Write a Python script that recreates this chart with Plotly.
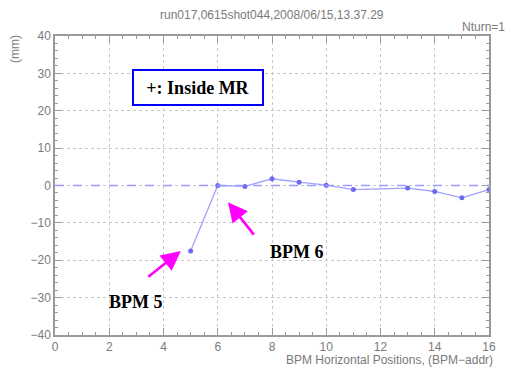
import plotly.graph_objects as go

# BPM readings (horizontal position in mm) for one turn
bpm_addr = [5, 6, 7, 8, 9, 10, 11, 13, 14, 15, 16]
position_mm = [-17.5, 0.0, -0.25, 1.8, 0.9, 0.1, -1.1, -0.7, -1.6, -3.3, -1.1]

x_ticks = [0, 2, 4, 6, 8, 10, 12, 14, 16]
y_ticks = [-40, -30, -20, -10, 0, 10, 20, 30, 40]

title_text = "run017,0615shot044,2008/06/15,13.37.29"
turn_text = "Nturn=1"
x_title = "BPM Horizontal Positions, (BPM\u2212addr)"
y_title = "(mm)"

axis_grey = "#9a9a9a"
text_grey = "#7a7a7a"
sans = "Liberation Sans, Arial, sans-serif"
serif = "Liberation Serif, Times New Roman, serif"

fig = go.Figure()
fig.add_trace(go.Scatter(
    x=bpm_addr, y=position_mm, mode="lines+markers",
    line=dict(color="#a0a0ff", width=1.3),
    marker=dict(color="#6b6bf2", size=5, line=dict(color="#6b6bf2", width=0)),
    showlegend=False, hoverinfo="x+y",
))

# reference line at zero
fig.add_shape(type="line", xref="paper", yref="y", x0=0, x1=1, y0=0, y1=0,
              line=dict(color="#9d9dff", width=1.4, dash="dash"), layer="above")

axis_common = dict(
    showline=True, linecolor=axis_grey, linewidth=1.5, mirror="allticks",
    ticks="inside", tickcolor=axis_grey, ticklen=7, tickwidth=1,
    showgrid=True, gridcolor="#c9c9c9", griddash="dot", gridwidth=1,
    zeroline=False, tickfont=dict(family=sans, size=12, color=text_grey),
)

fig.update_xaxes(range=[0, 16], tickvals=x_ticks, **axis_common,
                 minor=dict(dtick=0.5, ticks="inside", ticklen=3, tickcolor=axis_grey, showgrid=False))
fig.update_yaxes(range=[-40, 40], tickvals=y_ticks, **axis_common,
                 minor=dict(dtick=2, ticks="inside", ticklen=3, tickcolor=axis_grey, showgrid=False))

annotations = [
    dict(text=title_text, xref="paper", yref="paper", x=0.499, y=1.07,
         xanchor="center", yanchor="middle", showarrow=False,
         font=dict(family=sans, size=12, color=text_grey)),
    dict(text=turn_text, xref="paper", yref="paper", x=0.934, y=1.03,
         xanchor="left", yanchor="middle", showarrow=False,
         font=dict(family=sans, size=12, color=text_grey)),
    dict(text=x_title, xref="paper", yref="paper", x=1.0137, y=-0.0836,
         xanchor="right", yanchor="middle", showarrow=False,
         font=dict(family=sans, size=12, color=text_grey)),
    dict(text=y_title, xref="paper", yref="paper", x=-0.091, y=0.955,
         xanchor="center", yanchor="middle", textangle=-90, showarrow=False,
         font=dict(family=sans, size=12, color=text_grey)),
    dict(text="<b>+: Inside MR</b>", xref="x", yref="y", x=5.27, y=26.3,
         showarrow=False, font=dict(family=serif, size=18, color="black"),
         bordercolor="#0000ff", borderwidth=2, borderpad=2, width=124, height=29,
         bgcolor="white"),
    dict(text="<b>BPM 5</b>", xref="x", yref="y", x=2.99, y=-31.3,
         showarrow=False, font=dict(family=serif, size=18, color="black")),
    dict(text="<b>BPM 6</b>", xref="x", yref="y", x=8.91, y=-17.9,
         showarrow=False, font=dict(family=serif, size=18, color="black")),
    # arrows pointing at BPM 5 and BPM 6
    dict(text="", xref="x", yref="y", x=4.64, y=-17.5, ax=-34, ay=27,
         showarrow=True, arrowhead=2, arrowsize=1.5, arrowwidth=2.6,
         arrowcolor="#ff00ff", standoff=0),
    dict(text="", xref="x", yref="y", x=6.38, y=-4.45, ax=27, ay=34,
         showarrow=True, arrowhead=2, arrowsize=1.5, arrowwidth=2.6,
         arrowcolor="#ff00ff", standoff=0),
]

fig.update_layout(
    width=508, height=367,
    margin=dict(l=55, r=16, t=36, b=32),
    paper_bgcolor="white", plot_bgcolor="white",
    annotations=annotations,
)

fig.write_html("out.html")
